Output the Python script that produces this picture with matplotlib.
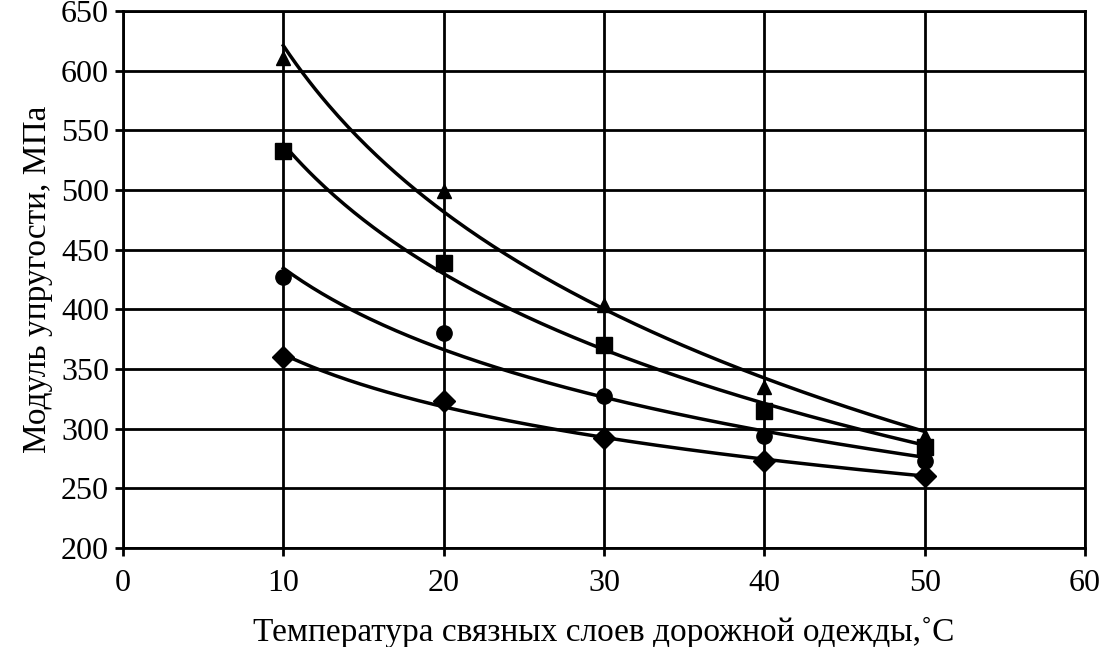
import matplotlib
matplotlib.use("Agg")
import matplotlib.pyplot as plt
import numpy as np

# --- data ----------------------------------------------------------------
temperature = [10, 20, 30, 40, 50]
modulus_triangle = [611, 499, 404, 335, 294]
modulus_square = [533, 439, 370, 315, 285]
modulus_circle = [427, 380, 327, 294, 273]
modulus_diamond = [360, 323, 292, 273, 260]

x_ticks = [0, 10, 20, 30, 40, 50, 60]
y_ticks = [200, 250, 300, 350, 400, 450, 500, 550, 600, 650]
# ------------------------------------------------------------------------

plt.rcParams["font.family"] = ["Liberation Serif", "DejaVu Serif"]

fig = plt.figure(figsize=(11.11, 6.47), dpi=100)
ax = fig.add_axes([0.1107, 0.153, 0.866, 0.830])

series = [
    (modulus_triangle, "^", 10),
    (modulus_square, "s", 12),
    (modulus_circle, "o", 11),
    (modulus_diamond, "D", 11),
]

x = np.asarray(temperature, dtype=float)
xs = np.linspace(x.min(), x.max(), 200)
for values, marker, ms in series:
    y = np.asarray(values, dtype=float)
    # logarithmic trend line, as in the original spreadsheet chart
    b, a = np.polyfit(np.log(x), y, 1)
    ax.plot(xs, a + b * np.log(xs), color="black", lw=2.5, zorder=3)
    ax.plot(x, y, linestyle="none", marker=marker, ms=ms, color="black", zorder=4)

ax.set_xlim(0, 60)
ax.set_ylim(200, 650)
ax.set_xticks(x_ticks)
ax.set_yticks(y_ticks)
ax.grid(True, color="black", lw=2.0)
ax.set_axisbelow(True)
for spine in ax.spines.values():
    spine.set_linewidth(2.0)
ax.tick_params(axis="both", direction="out", length=6, width=2.0,
               labelsize=23, colors="black", pad=4)
ax.tick_params(axis="x", pad=9)

ax.set_xlabel("Температура связных слоев дорожной одежды,\u02daС",
              fontsize=24, labelpad=14)
ax.set_ylabel("Модуль упругости, МПа", fontsize=24, labelpad=6)

fig.savefig("out.png", dpi=100)
